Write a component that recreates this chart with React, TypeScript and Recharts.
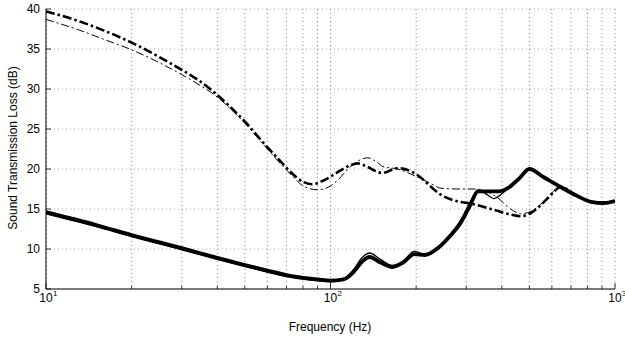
import React from "react";
import { LineChart, Line, XAxis, YAxis, CartesianGrid } from "recharts";

// frequency grid of the log axis
const xTicks = [10, 20, 30, 40, 50, 60, 70, 80, 90, 100, 200, 300, 400, 500, 600, 700, 800, 900, 1000];
const yTicks = [5, 10, 15, 20, 25, 30, 35, 40];
const decades = [10, 100, 1000];

// heavy dash-dot curve
const heavyDashFreq = [10, 13, 16, 20, 25, 30, 35, 39, 44, 51, 58, 67, 74, 80, 86, 95, 106, 118, 125, 135, 152, 172, 202, 208, 225, 244, 270, 318, 375, 430, 465, 506, 560, 595, 645, 730, 823, 915, 1000];
const heavyDashLoss = [39.7, 38.5, 37.3, 35.8, 34.0, 32.4, 30.9, 29.6, 27.9, 25.6, 23.3, 20.9, 19.3, 18.4, 18.1, 18.6, 19.6, 20.5, 20.7, 20.25, 19.5, 20.1, 19.25, 18.9, 17.8, 16.8, 16.1, 15.6, 14.9, 14.3, 14.1, 14.5, 15.8, 16.75, 17.75, 16.7, 15.9, 15.75, 16.0];

// thin dash-dot curve
const thinDashFreq = [10, 13, 16, 20, 25, 30, 35, 39, 44, 51, 58, 67, 74, 80, 90, 98, 106, 117, 125, 135, 145, 153, 172, 202, 225, 244, 280, 318, 340, 380, 430, 465, 506, 560, 595, 645, 730, 823, 915, 1000];
const thinDashLoss = [38.7, 37.4, 36.2, 34.9, 33.3, 31.8, 30.4, 29.3, 27.7, 25.4, 23.1, 20.6, 19.0, 17.9, 17.4, 17.7, 18.6, 20.25, 21.0, 21.4, 20.9, 20.3, 20.0, 19.0, 18.2, 17.6, 17.5, 17.5, 17.4, 16.6, 15.0, 14.4, 14.7, 15.9, 16.9, 17.75, 16.7, 15.9, 15.75, 16.0];

// heavy solid curve
const heavySolidFreq = [10, 15, 20, 30, 40, 50, 60, 70, 85, 100, 111, 121, 129, 137, 150, 165, 180, 197, 215, 240, 265, 287, 310, 330, 360, 390, 420, 460, 500, 560, 645, 730, 823, 915, 1000];
const heavySolidLoss = [14.6, 13.0, 11.75, 10.1, 8.9, 8.0, 7.3, 6.75, 6.3, 6.05, 6.2, 7.2, 8.4, 9.0, 8.3, 7.75, 8.3, 9.35, 9.25, 10.2, 11.75, 13.3, 15.5, 17.2, 17.2, 17.2, 17.6, 18.8, 20.0, 19.0, 17.75, 16.7, 15.9, 15.75, 16.0];

// thin solid curve
const thinSolidFreq = [10, 15, 20, 30, 40, 50, 60, 70, 85, 100, 111, 121, 129, 137, 150, 165, 180, 197, 215, 240, 265, 287, 310, 330, 355, 375, 400, 420, 460, 500, 560, 645, 730, 823, 915, 1000];
const thinSolidLoss = [14.4, 12.8, 11.55, 9.9, 8.7, 7.8, 7.1, 6.55, 6.1, 5.9, 6.2, 7.5, 8.9, 9.5, 8.7, 7.95, 8.5, 9.7, 9.35, 10.3, 11.9, 13.6, 15.9, 17.4, 16.8, 16.3, 16.9, 17.6, 18.8, 20.0, 19.0, 17.75, 16.7, 15.9, 15.75, 16.0];

const toPoints = (freq: number[], loss: number[]) => freq.map((f, i) => ({ f, v: loss[i] }));

const FONT = "'Liberation Sans', Arial, Helvetica, sans-serif";

function BottomTick({ x, y, payload }: any) {
  const major = decades.includes(payload.value);
  const exp = Math.round(Math.log10(payload.value));
  return (
    <g>
      <line x1={x} x2={x} y1={y} y2={y - (major ? 6 : 3)} stroke="#000" strokeWidth={0.8} />
      {major && (
        <>
          <text x={x} y={y + 13} textAnchor="middle" fontSize={12} fontFamily={FONT} fill="#000">
            10
          </text>
          <text x={x + 7} y={y + 7} fontSize={8} fontFamily={FONT} fill="#000">
            {exp}
          </text>
        </>
      )}
    </g>
  );
}

function TopTick({ x, y, payload }: any) {
  const major = decades.includes(payload.value);
  return <line x1={x} x2={x} y1={y} y2={y + (major ? 6 : 3)} stroke="#000" strokeWidth={0.8} />;
}

function LeftTick({ x, y, payload }: any) {
  return (
    <g>
      <line x1={x} x2={x + 5} y1={y} y2={y} stroke="#000" strokeWidth={0.8} />
      <text x={x - 6} y={y} dy="0.36em" textAnchor="end" fontSize={12} fontFamily={FONT} fill="#000">
        {payload.value}
      </text>
    </g>
  );
}

function RightTick({ x, y }: any) {
  return <line x1={x} x2={x - 5} y1={y} y2={y} stroke="#000" strokeWidth={0.8} />;
}

export default function App() {
  return (
    <div style={{ position: "absolute", left: 0, top: 0, width: 625, height: 337, background: "#fff" }}>
      <LineChart width={625} height={337} margin={{ top: 9, right: 10, bottom: 18, left: 6 }}>
        <CartesianGrid horizontal={false} stroke="#888" strokeDasharray="1 3" />
        <CartesianGrid vertical={false} stroke="#aaa" strokeDasharray="1 3" />
        <XAxis
          dataKey="f"
          type="number"
          scale="log"
          domain={[10, 1000]}
          ticks={xTicks}
          allowDataOverflow
          height={30}
          tickSize={0}
          tickMargin={0}
          tickLine={false}
          interval={0}
          axisLine={{ stroke: "#000", strokeWidth: 1 }}
          tick={<BottomTick />}
        />
        <XAxis
          xAxisId="top"
          orientation="top"
          dataKey="f"
          type="number"
          scale="log"
          domain={[10, 1000]}
          ticks={xTicks}
          allowDataOverflow
          height={0}
          tickSize={0}
          tickMargin={0}
          tickLine={false}
          interval={0}
          axisLine={{ stroke: "#000", strokeWidth: 1 }}
          tick={<TopTick />}
        />
        <YAxis
          type="number"
          domain={[5, 40]}
          ticks={yTicks}
          allowDataOverflow
          width={40}
          tickSize={0}
          tickMargin={0}
          tickLine={false}
          interval={0}
          axisLine={{ stroke: "#000", strokeWidth: 1 }}
          tick={<LeftTick />}
        />
        <YAxis
          yAxisId="right"
          orientation="right"
          type="number"
          domain={[5, 40]}
          ticks={yTicks}
          allowDataOverflow
          width={0}
          tickSize={0}
          tickMargin={0}
          tickLine={false}
          interval={0}
          axisLine={{ stroke: "#000", strokeWidth: 1 }}
          tick={<RightTick />}
        />
        <Line
          data={toPoints(heavySolidFreq, heavySolidLoss)}
          dataKey="v"
          type="monotone"
          stroke="#000"
          strokeWidth={3.8}
          dot={false}
          isAnimationActive={false}
        />
        <Line
          data={toPoints(thinSolidFreq, thinSolidLoss)}
          dataKey="v"
          type="monotone"
          stroke="#000"
          strokeWidth={1.3}
          dot={false}
          isAnimationActive={false}
        />
        <Line
          data={toPoints(thinDashFreq, thinDashLoss)}
          dataKey="v"
          type="monotone"
          stroke="#000"
          strokeWidth={1}
          strokeDasharray="8 3 2 3"
          dot={false}
          isAnimationActive={false}
        />
        <Line
          data={toPoints(heavyDashFreq, heavyDashLoss)}
          dataKey="v"
          type="monotone"
          stroke="#000"
          strokeWidth={2.6}
          strokeDasharray="9 3 2.5 3"
          dot={false}
          isAnimationActive={false}
        />
      </LineChart>
      <svg width={625} height={337} style={{ position: "absolute", left: 0, top: 0, pointerEvents: "none" }}>
        <text x={330} y={331} textAnchor="middle" fontSize={12} fontFamily={FONT} fill="#000">
          Frequency (Hz)
        </text>
        <text
          x={13}
          y={148}
          transform="rotate(-90 13 148)"
          textAnchor="middle"
          dy="0.36em"
          fontSize={12}
          fontFamily={FONT}
          fill="#000"
        >
          Sound Transmission Loss (dB)
        </text>
      </svg>
    </div>
  );
}
